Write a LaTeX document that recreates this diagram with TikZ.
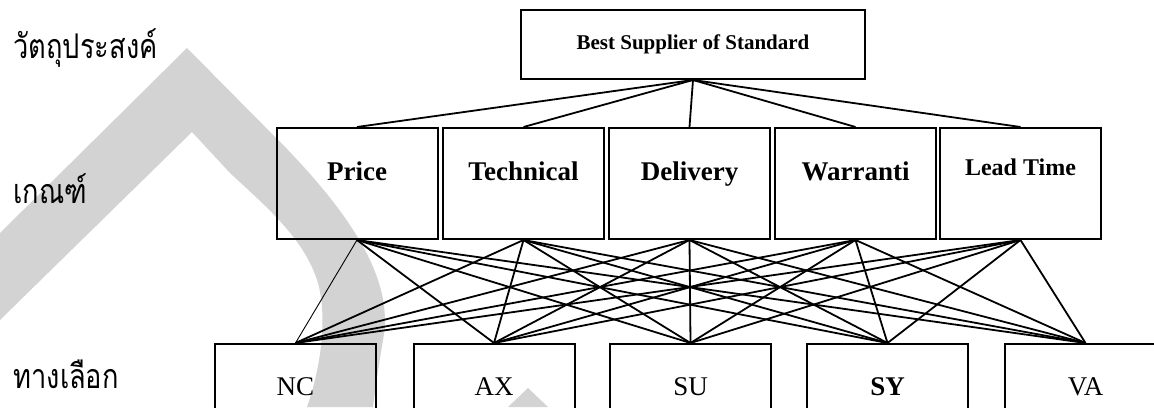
\documentclass[tikz,border=0pt]{standalone}
\usepackage{fontspec}
\setmainfont{Liberation Serif}
\newfontfamily\thaifont[Script=Thai,FakeStretch=0.8]{Loma}
\definecolor{wmgray}{RGB}{211,211,211}
\begin{document}
\begin{tikzpicture}[x=1pt,y=-1pt,
  goalbox/.style={draw,line width=2pt,minimum width=344pt,minimum height=69pt,font=\fontsize{21}{24}\selectfont\bfseries},
  critbox/.style={draw,line width=2pt,minimum width=161pt,minimum height=111pt,text height=18pt,text depth=24pt,font=\fontsize{27}{30}\selectfont\bfseries},
  altbox/.style={draw,line width=2pt,minimum width=161pt,minimum height=86pt,font=\fontsize{27}{30}\selectfont},
  link/.style={line width=1.8pt},
  level/.style={anchor=base west,font=\thaifont\fontsize{34}{36}\selectfont}]
  \useasboundingbox (0,0) rectangle (1154,407);
  \clip (0,0) rectangle (1154,407);
  \fill[wmgray] (0,233) -- (187,48) -- (288,150)
    .. controls (350,215) and (395,280) .. (383,340)
    .. controls (378,370) and (375,390) .. (373,407) -- (307,407)
    .. controls (320,370) and (328,320) .. (318,283)
    .. controls (305,240) and (270,210) .. (230,173) -- (192,132) -- (0,320) -- cycle;
  \fill[wmgray] (528,388) -- (548,407) -- (508,407) -- cycle;
  \node[level] (lgoal) at (10,58) {วัตถุประสงค์};
  \node[level] (lcrit) at (10,203) {เกณฑ์};
  \node[level] (lalt) at (10,388) {ทางเลือก};
  \node[goalbox] (goal) at (693,44.5) {Best Supplier of Standard};
  \node[critbox] (price) at (357,183.5) {Price};
  \node[critbox] (tech) at (523.5,183.5) {Technical};
  \node[critbox] (deliv) at (689.5,183.5) {Delivery};
  \node[critbox] (warr) at (855.5,183.5) {Warranti};
  \node[critbox,text height=16pt,text depth=33pt,font=\fontsize{24}{27}\selectfont\bfseries] (lead) at (1020.5,183.5) {Lead Time};
  \node[altbox] (nc) at (295.5,387) {NC};
  \node[altbox] (ax) at (494,387) {AX};
  \node[altbox] (su) at (690.5,387) {SU};
  \node[altbox,font=\fontsize{27}{30}\selectfont\bfseries] (sy) at (887.5,387) {SY};
  \node[altbox] (va) at (1085.5,387) {VA};
  \foreach \c in {price,tech,deliv,warr,lead}
    \draw[link] (goal.south) -- (\c.north);
  \draw[line width=0.9pt] (price.south) -- (nc.north);
  \foreach \a in {ax,su,sy,va}
    \draw[link] (price.south) -- (\a.north);
  \foreach \c in {tech,deliv,warr,lead}
    \foreach \a in {nc,ax,su,sy,va}
      \draw[link] (\c.south) -- (\a.north);
\end{tikzpicture}
\end{document}
